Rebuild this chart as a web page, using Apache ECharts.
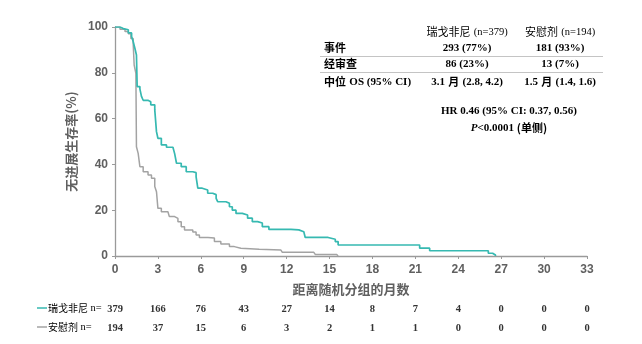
<!DOCTYPE html>
<html>
<head>
<meta charset="utf-8">
<script src="https://cdn.jsdelivr.net/npm/echarts@6/dist/echarts.min.js"></script>
<style>html,body{margin:0;padding:0;background:#fff;}#c{width:642px;height:344px;}</style>
</head>
<body>
<div id="c"></div>
<script>
// ---- Data ----
const xTicks = [0, 3, 6, 9, 12, 15, 18, 21, 24, 27, 30, 33];
const yTicks = [0, 20, 40, 60, 80, 100];

const regTimes = [0, 0.35, 0.58, 0.93, 1.16, 1.27, 1.39, 1.5, 1.55, 1.74, 1.85, 1.97, 2.3, 2.5, 2.78, 2.9, 3.0, 3.24, 3.6, 4.05, 4.17, 4.3, 4.63, 4.98, 5.44, 5.67, 5.79, 6.1, 6.48, 6.83, 7.07, 7.18, 7.76, 8.0, 8.2, 8.46, 8.9, 9.27, 9.6, 9.97, 10.3, 10.76, 12.3, 12.85, 13.2, 13.3, 14.9, 15.4, 15.6, 21.3, 22.0, 26.1, 26.4, 26.6];
const regSurv  = [100, 99.3, 98.8, 97.4, 95.9, 93.7, 90.7, 87.8, 74, 73, 69.7, 68, 67.4, 66, 63.8, 54.3, 51.4, 48.5, 47.5, 47, 44.7, 40.5, 39, 36.8, 36.4, 34.6, 29.6, 28.8, 27.4, 26.8, 25.2, 23.7, 23, 21.5, 20, 18.6, 17.9, 16.5, 15, 14.4, 12.8, 11.6, 11.4, 10.6, 9.9, 8.1, 7.3, 6.3, 4.8, 3.4, 2.3, 1.2, 0.4, 0];

const plaTimes = [0, 0.35, 0.7, 0.93, 1.11, 1.27, 1.34, 1.46, 1.5, 1.62, 1.74, 1.97, 2.31, 2.55, 2.78, 2.9, 3.0, 3.24, 3.7, 3.8, 4.17, 4.4, 4.63, 4.86, 5.44, 5.67, 5.9, 6.5, 6.95, 7.4, 8.0, 8.34, 8.8, 10.08, 11.6, 11.7, 13.9, 14.0, 15.5, 15.6];
const plaSurv  = [100, 99, 98, 97, 95, 92.9, 83.4, 79.8, 47.7, 44.8, 39, 36.8, 35.4, 33.9, 30.3, 28.1, 20.8, 19.3, 18.8, 17.2, 16.4, 15, 12.8, 11.4, 10.5, 9.2, 8.1, 7.9, 6.3, 5.2, 4.1, 3.4, 3, 2.6, 2.3, 1.6, 1.2, 0.7, 0.4, 0];

const regRisk = [379, 166, 76, 43, 27, 14, 8, 7, 4, 0, 0, 0];
const plaRisk = [194, 37, 15, 6, 3, 2, 1, 1, 0, 0, 0, 0];

const regName = '瑞戈非尼';
const plaName = '安慰剂';
const regN = 379, plaN = 194;
const regEvents = '293 (77%)', plaEvents = '181 (93%)';
const regCens = '86 (23%)', plaCens = '13 (7%)';
const regMedian = ['3.1', '(2.8, 4.2)'], plaMedian = ['1.5', '(1.4, 1.6)'];
const hrText = 'HR 0.46 (95% CI: 0.37, 0.56)';
const pText = '<0.0001';

// ---- Styles ----
const TEAL = '#36b9b1';
const GRAY = '#a3a3a3';
const AXIS = '#9a9a9a';
const LBL = '#606060';
const SANS = 'Liberation Sans, Arial, sans-serif';
const SERIF = 'Liberation Serif, Times New Roman, serif';
const CJK = 'Noto Sans CJK SC, sans-serif';

const regData = regTimes.map((t, i) => [t, regSurv[i]]);
const plaData = plaTimes.map((t, i) => [t, plaSurv[i]]);

function riskAxis(arr, offset) {
  return {
    type: 'value', min: 0, max: 33, interval: 3, position: 'bottom', offset: offset,
    axisLine: {show: false}, axisTick: {show: false}, splitLine: {show: false},
    axisLabel: {
      margin: 2, color: '#333', fontFamily: SERIF, fontSize: 10.5, fontWeight: 'bold',
      formatter: v => String(arr[Math.round(v / 3)])
    }
  };
}

const chart = echarts.init(document.getElementById('c'), null, {renderer: 'canvas'});

const tx = (x, y, text, rich, align) => ({
  type: 'text', x: x, y: y, silent: true,
  style: {text: text, rich: rich, align: align || 'center', verticalAlign: 'middle'}
});

const richBase = {
  h: {fontFamily: CJK, fontSize: 11, fontWeight: 'bold', color: '#1a1a1a'},
  s: {fontFamily: SERIF, fontSize: 11, fontWeight: 'bold', color: '#1a1a1a'},
  v: {fontFamily: SERIF, fontSize: 11, fontWeight: 'bold', color: '#2a2a2a'},
  c: {fontFamily: CJK, fontSize: 11, fontWeight: 'bold', color: '#2a2a2a'},
  i: {fontFamily: SERIF, fontSize: 11, fontWeight: 'bold', fontStyle: 'italic', color: '#2a2a2a'},
  ta: {fontFamily: CJK, fontSize: 11, color: TEAL},
  ts: {fontFamily: SERIF, fontSize: 10.5, color: TEAL},
  ga: {fontFamily: CJK, fontSize: 11, color: '#555'},
  gs: {fontFamily: SERIF, fontSize: 10.5, color: '#555'},
  ra: {fontFamily: CJK, fontSize: 10, color: '#333'},
  rs: {fontFamily: SERIF, fontSize: 10.5, color: '#333'}
};

const col1 = 467, col2 = 560;

chart.setOption({
  animation: false,
  backgroundColor: '#fff',
  grid: {left: 115, right: 55, top: 27, bottom: 88, containLabel: false},
  xAxis: [
    {
      type: 'value', min: 0, max: 33, interval: 3,
      name: '距离随机分组的月数', nameLocation: 'middle', nameGap: 27,
      nameTextStyle: {fontFamily: CJK, fontSize: 13, fontWeight: 'bold', color: LBL},
      axisLine: {show: true, lineStyle: {color: AXIS, width: 1.3}},
      axisTick: {show: true, length: 3, lineStyle: {color: AXIS}},
      splitLine: {show: false},
      axisLabel: {margin: 8, color: LBL, fontFamily: SANS, fontSize: 12, fontWeight: 'bold',
        formatter: v => String(xTicks[Math.round(v / 3)])}
    },
    riskAxis(regRisk, 46),
    riskAxis(plaRisk, 65)
  ],
  yAxis: {
    type: 'value', min: 0, max: 100, interval: 20,
    name: '无进展生存率(%)', nameLocation: 'middle', nameGap: 36, nameRotate: 90,
    nameTextStyle: {fontFamily: CJK, fontSize: 13, fontWeight: 'bold', color: LBL},
    axisLine: {show: true, lineStyle: {color: AXIS, width: 1.3}},
    axisTick: {show: true, length: 3, lineStyle: {color: AXIS}},
    splitLine: {show: false},
    axisLabel: {margin: 7, color: LBL, fontFamily: SANS, fontSize: 12, fontWeight: 'bold',
      formatter: v => String(yTicks[Math.round(v / 20)])}
  },
  series: [
    {type: 'line', name: plaName, step: 'end', data: plaData, showSymbol: false,
      lineStyle: {color: GRAY, width: 1.5}, itemStyle: {color: GRAY}, z: 2},
    {type: 'line', name: regName, step: 'end', data: regData, showSymbol: false,
      lineStyle: {color: TEAL, width: 1.7}, itemStyle: {color: TEAL}, z: 3}
  ],
  graphic: [
    tx(col1, 32, '{ta|' + regName + '} {ts|(n=' + regN + ')}', richBase),
    tx(col2, 32, '{ga|' + plaName + '} {gs|(n=' + plaN + ')}', richBase),
    tx(324, 48, '{h|事件}', richBase, 'left'),
    tx(col1, 48, '{v|' + regEvents + '}', richBase),
    tx(col2, 48, '{v|' + plaEvents + '}', richBase),
    {type: 'line', silent: true, shape: {x1: 320, y1: 56.5, x2: 603, y2: 56.5}, style: {stroke: '#c4c4c4', lineWidth: 1}},
    tx(324, 64, '{h|经审查}', richBase, 'left'),
    tx(col1, 64, '{v|' + regCens + '}', richBase),
    tx(col2, 64, '{v|' + plaCens + '}', richBase),
    {type: 'line', silent: true, shape: {x1: 320, y1: 72.5, x2: 603, y2: 72.5}, style: {stroke: '#c4c4c4', lineWidth: 1}},
    tx(324, 82, '{h|中位} {s|OS (95% CI)}', richBase, 'left'),
    tx(col1, 82, '{v|' + regMedian[0] + '} {c|月} {v|' + regMedian[1] + '}', richBase),
    tx(col2, 82, '{v|' + plaMedian[0] + '} {c|月} {v|' + plaMedian[1] + '}', richBase),
    tx(509, 111, '{v|' + hrText + '}', richBase),
    tx(509, 128, '{i|P}{v|' + pText + ' }{c|(单侧)}', richBase),
    // at-risk row labels
    {type: 'line', silent: true, shape: {x1: 37, y1: 308, x2: 47, y2: 308}, style: {stroke: TEAL, lineWidth: 1.5}},
    tx(48, 308, '{ra|' + regName + '}{rs| n=}', richBase, 'left'),
    {type: 'line', silent: true, shape: {x1: 37, y1: 327, x2: 47, y2: 327}, style: {stroke: GRAY, lineWidth: 1.5}},
    tx(48, 327, '{ra|' + plaName + '}{rs| n=}', richBase, 'left')
  ]
});
</script>
</body>
</html>
